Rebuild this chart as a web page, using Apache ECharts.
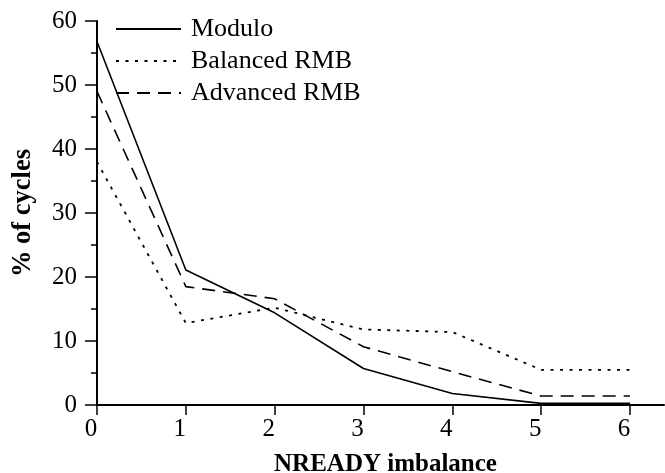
<!DOCTYPE html>
<html>
<head>
<meta charset="utf-8">
<script src="https://cdn.jsdelivr.net/npm/echarts@6/dist/echarts.min.js"></script>
<style>
  html, body { margin: 0; padding: 0; background: #fff; }
  #chart { width: 665px; height: 473px; }
</style>
</head>
<body>
<div id="chart"></div>
<script>
// NREADY imbalance values on the x axis
const imbalance = [0, 1, 2, 3, 4, 5, 6];
// Percentage of cycles for each scheduling scheme
const modulo = [56.8, 21.1, 14.4, 5.7, 1.8, 0.25, 0.25];
const balancedRMB = [38.0, 12.8, 15.2, 11.8, 11.4, 5.5, 5.5];
const advancedRMB = [49.0, 18.5, 16.6, 9.1, 5.2, 1.4, 1.4];
// Tick labels
const xTicks = [0, 1, 2, 3, 4, 5, 6];
const yTicks = [0, 10, 20, 30, 40, 50, 60];

const serif = '"Liberation Serif", "Times New Roman", serif';

function pairs(values) {
  return imbalance.map((x, i) => [x, values[i]]);
}

const chart = echarts.init(document.getElementById('chart'));
chart.setOption({
  backgroundColor: '#fff',
  animation: false,
  grid: { left: 97, right: 1, top: 21, bottom: 68, outerBoundsMode: 'none', containLabel: false },
  legend: {
    orient: 'vertical',
    left: 115,
    top: 13,
    padding: 0,
    itemWidth: 65,
    itemHeight: 14,
    itemGap: 0,
    // line-only keys: hide the marker drawn in the middle of each key
    itemStyle: { opacity: 0, borderWidth: 0 },
    textStyle: { fontFamily: serif, fontSize: 26, color: '#000', lineHeight: 32, padding: [0, 0, 0, 5] },
    data: ['Modulo', 'Balanced RMB', 'Advanced RMB']
  },
  xAxis: {
    type: 'value',
    min: 0,
    max: 6.383,
    name: 'NREADY imbalance',
    nameLocation: 'middle',
    nameGap: 47,
    nameTextStyle: { fontFamily: serif, fontSize: 25, fontWeight: 'bold', color: '#000', padding: [0, 0, 0, 10] },
    axisLine: { show: true, onZero: false, lineStyle: { color: '#000', width: 2 } },
    axisTick: { show: true, inside: false, length: 10, customValues: xTicks, lineStyle: { color: '#000', width: 1.5 } },
    axisLabel: { customValues: xTicks, fontFamily: serif, fontSize: 25, color: '#000', margin: 12, padding: [0, 12, 0, 0] },
    splitLine: { show: false }
  },
  yAxis: {
    type: 'value',
    min: 0,
    max: 60,
    interval: 10,
    name: '% of cycles',
    nameLocation: 'middle',
    nameGap: 60,
    nameRotate: 90,
    nameTextStyle: { fontFamily: serif, fontSize: 26.5, fontWeight: 'bold', color: '#000' },
    axisLine: { show: true, lineStyle: { color: '#000', width: 2 } },
    axisTick: { show: true, inside: false, length: 12, customValues: yTicks, lineStyle: { color: '#000', width: 1.5 } },
    minorTick: { show: true, splitNumber: 2, length: 6, lineStyle: { color: '#000', width: 1.5 } },
    axisLabel: { customValues: yTicks, fontFamily: serif, fontSize: 25, color: '#000', margin: 20 },
    splitLine: { show: false }
  },
  series: [
    {
      name: 'Modulo', type: 'line', data: pairs(modulo), symbol: 'none',
      lineStyle: { color: '#000', width: 1.6, type: 'solid' },
      itemStyle: { color: '#000' }
    },
    {
      name: 'Balanced RMB', type: 'line', data: pairs(balancedRMB), symbol: 'none',
      lineStyle: { color: '#000', width: 1.8, type: [3, 6.5] },
      itemStyle: { color: '#000' }
    },
    {
      name: 'Advanced RMB', type: 'line', data: pairs(advancedRMB), symbol: 'none',
      lineStyle: { color: '#000', width: 1.6, type: [13, 8] },
      itemStyle: { color: '#000' }
    }
  ]
});
</script>
</body>
</html>
